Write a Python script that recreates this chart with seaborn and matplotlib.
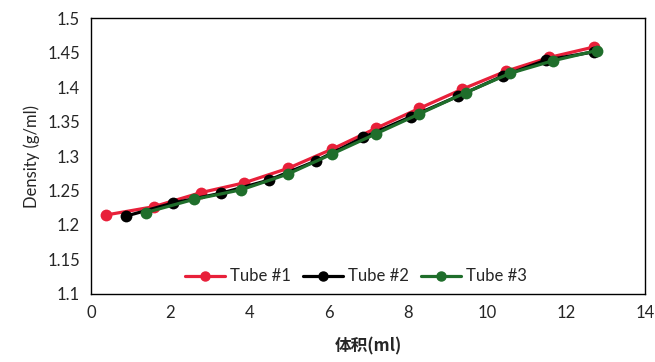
import pandas as pd
import seaborn as sns
import matplotlib.pyplot as plt
from matplotlib.lines import Line2D

# ==================== DATA ====================
tube1_x = [0.38, 1.58, 2.78, 3.86, 4.97, 6.09, 7.19, 8.29, 9.38, 10.48, 11.58, 12.70]
tube1_y = [1.2145, 1.2265, 1.247, 1.261, 1.282, 1.310, 1.340, 1.369, 1.397, 1.423, 1.443, 1.458]

tube2_x = [0.89, 2.08, 3.28, 4.49, 5.69, 6.88, 8.08, 9.28, 10.40, 11.49, 12.70]
tube2_y = [1.213, 1.232, 1.246, 1.265, 1.293, 1.327, 1.357, 1.387, 1.416, 1.439, 1.451]

tube3_x = [1.38, 2.59, 3.79, 4.98, 6.09, 7.19, 8.29, 9.47, 10.59, 11.66, 12.78]
tube3_y = [1.218, 1.237, 1.251, 1.274, 1.303, 1.332, 1.361, 1.392, 1.420, 1.438, 1.453]

labels = ['Tube #1', 'Tube #2', 'Tube #3']
colors = ['#E8203A', '#000000', '#1F6E2B']

df = pd.concat([
    pd.DataFrame({'x': tube1_x, 'y': tube1_y, 'tube': labels[0]}),
    pd.DataFrame({'x': tube2_x, 'y': tube2_y, 'tube': labels[1]}),
    pd.DataFrame({'x': tube3_x, 'y': tube3_y, 'tube': labels[2]}),
])

# ==================== PLOT ====================
sns.set_style('white')
plt.rcParams['font.family'] = ['Lato', 'Noto Sans CJK SC', 'DejaVu Sans']

fig = plt.figure(figsize=(6.55, 3.62), dpi=100)
ax = fig.add_axes([0.139, 0.188, 0.846, 0.762])

sns.lineplot(data=df, x='x', y='y', hue='tube', palette=dict(zip(labels, colors)),
             marker='o', markersize=8.5, markeredgewidth=0, linewidth=2.3,
             sort=False, estimator=None, ax=ax, legend=False)

ax.set_xlim(0, 14)
ax.set_ylim(1.1, 1.5)
ax.set_xticks(range(0, 15, 2))
ax.set_yticks([1.1 + 0.05 * i for i in range(9)])
ax.set_yticklabels([f"{1.1 + 0.05 * i:g}" for i in range(9)])
ax.tick_params(direction='in', length=5, width=1, labelsize=12, pad=8)
for s in ax.spines.values():
    s.set_color('black')
    s.set_linewidth(1)

ax.set_xlabel('体积(ml)', fontsize=12, fontweight='bold', labelpad=12,
              family=['Noto Sans CJK SC', 'DejaVu Sans'])
ax.set_ylabel('Density (g/ml)', fontsize=12, labelpad=5)

handles = [Line2D([0], [0], color=c, lw=2.3, marker='o', markersize=6.5) for c in colors]
ax.legend(handles, labels, ncol=3, frameon=False, loc='lower center',
          bbox_to_anchor=(0.478, -0.02), fontsize=12, handlelength=2.4,
          columnspacing=0.7, handletextpad=0.3)

plt.savefig('out.png', dpi=100)
plt.close(fig)
